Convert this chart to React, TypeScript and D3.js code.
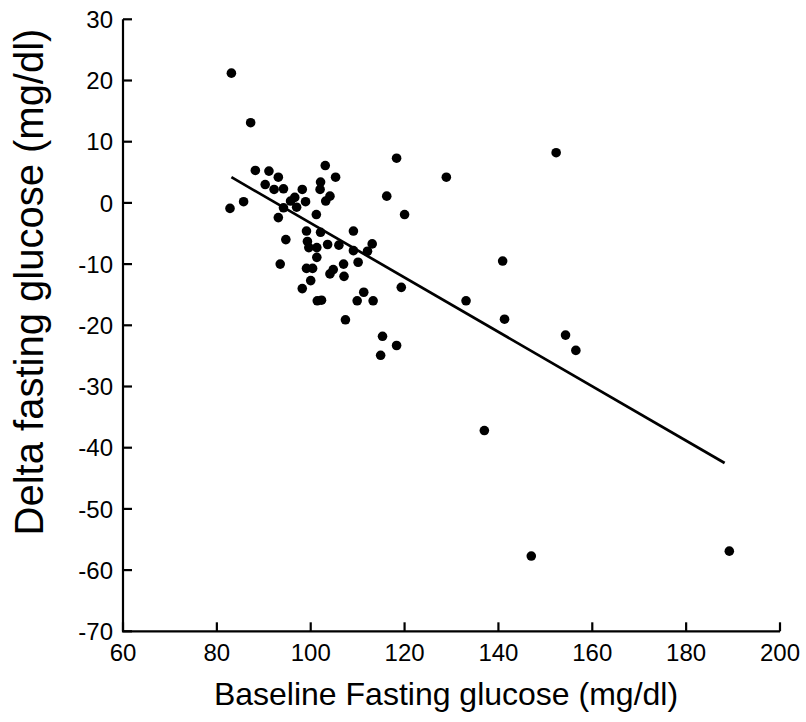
import React from "react";
import * as d3 from "d3";

const baselineGlucose = [
  83.1, 87.2, 88.2, 91.1, 93.1, 103.1, 105.3, 90.3, 92.2, 94.2,
  98.2, 102.1, 102.0, 96.6, 95.7, 98.9, 104.1, 103.2, 97.0, 94.2,
  82.8, 85.7, 93.1, 101.2, 99.1, 102.1, 94.7, 118.3, 116.2, 120.0,
  109.1, 99.3, 99.6, 101.3, 103.6, 106.0, 109.1, 112.1, 113.1, 101.3,
  110.1, 107.0, 99.1, 100.4, 104.8, 104.1, 107.1, 100.0, 98.2, 111.3,
  109.9, 113.3, 101.4, 102.3, 107.4, 115.3, 152.3, 128.9, 140.9, 119.3,
  133.1, 141.3, 154.3, 156.5, 118.3, 114.9, 137.0, 147.0, 189.2, 93.5,
];
const deltaGlucose = [
  21.2, 13.1, 5.3, 5.2, 4.2, 6.1, 4.2, 3.0, 2.2, 2.3,
  2.2, 3.4, 2.2, 0.9, 0.3, 0.2, 1.1, 0.3, -0.7, -0.8,
  -0.9, 0.2, -2.4, -1.9, -4.6, -4.8, -6.0, 7.3, 1.1, -1.9,
  -4.6, -6.3, -7.3, -7.3, -6.8, -6.9, -7.8, -7.9, -6.7, -8.9,
  -9.7, -10.0, -10.7, -10.7, -10.9, -11.6, -12.0, -12.7, -14.0, -14.6,
  -16.0, -16.0, -16.0, -15.9, -19.1, -21.8, 8.2, 4.2, -9.5, -13.8,
  -16.0, -19.0, -21.6, -24.1, -23.3, -24.9, -37.2, -57.7, -56.9, -10.0,
];
const fitX = [83.1, 188.2];
const fitY = [4.2, -42.5];
const xTicks = [60, 80, 100, 120, 140, 160, 180, 200];
const yTicks = [30, 20, 10, 0, -10, -20, -30, -40, -50, -60, -70];

const W = 806;
const H = 722;
const left = 123;
const right = 780;
const top = 19.3;
const bottom = 631.3;
const font = "'Liberation Sans', Arial, Helvetica, sans-serif";

export default function App() {
  const x = d3.scaleLinear().domain([60, 200]).range([left, right]);
  const y = d3.scaleLinear().domain([-70, 30]).range([bottom, top]);
  const line = d3
    .line<number>()
    .x((d) => x(d))
    .y((_, i) => y(fitY[i]));
  const tickLen = 9;
  return (
    <svg
      width={W}
      height={H}
      style={{ position: "absolute", left: 0, top: 0, background: "#fff" }}
      fontFamily={font}
    >
      <rect x={0} y={0} width={W} height={H} fill="#fff" />
      <path
        d={`M${left},${top}V${bottom}H${right}`}
        fill="none"
        stroke="#000"
        strokeWidth={2.2}
      />
      {yTicks.map((t) => (
        <g key={"y" + t}>
          <line x1={left} x2={left + tickLen} y1={y(t)} y2={y(t)} stroke="#000" strokeWidth={2.2} />
          <text x={left - 10} y={y(t)} dy="0.36em" textAnchor="end" fontSize={24} fill="#000">
            {t}
          </text>
        </g>
      ))}
      {xTicks.map((t) => (
        <g key={"x" + t}>
          <line x1={x(t)} x2={x(t)} y1={bottom} y2={bottom - tickLen} stroke="#000" strokeWidth={2.2} />
          <text x={x(t)} y={661} textAnchor="middle" fontSize={24} fill="#000">
            {t}
          </text>
        </g>
      ))}
      <text x={446} y={705} textAnchor="middle" fontSize={32} fill="#000">
        Baseline Fasting glucose (mg/dl)
      </text>
      <text
        transform={`translate(43,282) rotate(-90)`}
        textAnchor="middle"
        fontSize={40}
        fill="#000"
      >
        Delta fasting glucose (mg/dl)
      </text>
      <path d={line(fitX) || ""} fill="none" stroke="#000" strokeWidth={2.7} />
      {baselineGlucose.map((bx, i) => (
        <circle key={i} cx={x(bx)} cy={y(deltaGlucose[i])} r={4.8} fill="#000" />
      ))}
    </svg>
  );
}
